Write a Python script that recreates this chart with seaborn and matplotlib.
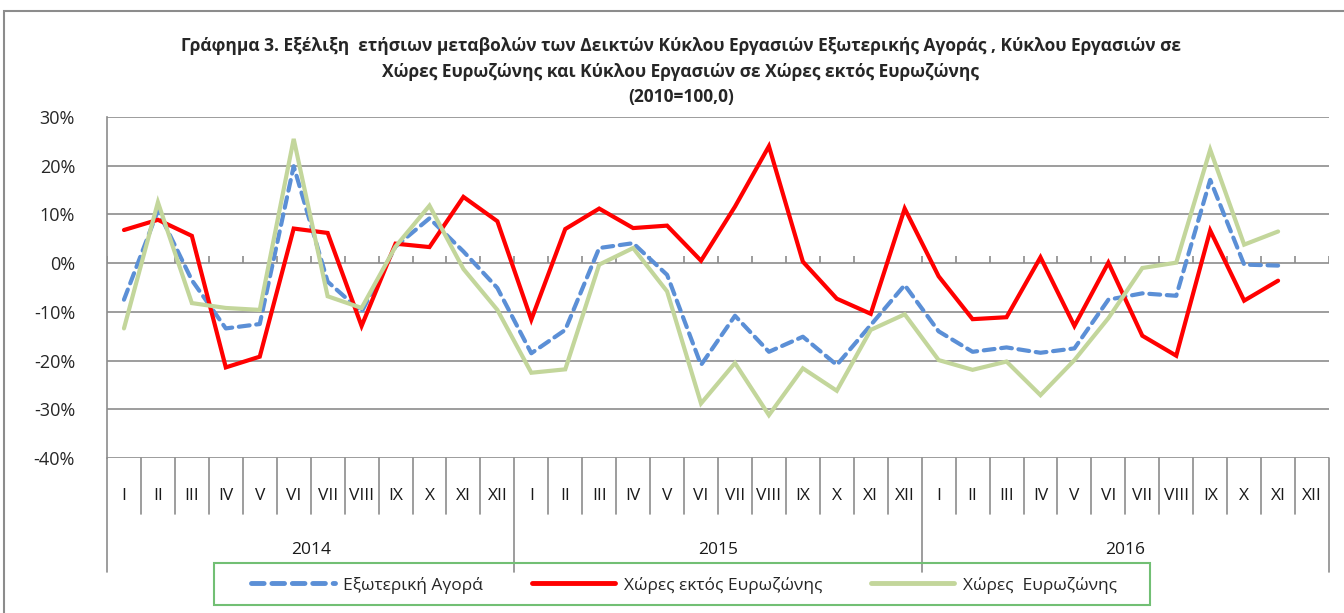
import numpy as np
import pandas as pd
import matplotlib
matplotlib.use("Agg")
from matplotlib import pyplot as plt
from matplotlib.patches import Rectangle
from matplotlib.lines import Line2D
import seaborn as sns

# month labels and years along the category axis
months = ["I", "II", "III", "IV", "V", "VI", "VII", "VIII", "IX", "X", "XI", "XII"]
years = ["2014", "2015", "2016"]

# series names (legend order)
series_names = ["Εξωτερική Αγορά", "Χώρες εκτός Ευρωζώνης", "Χώρες  Ευρωζώνης"]

# yearly change, % (2014 I .. 2016 XI)
external_market = [-7.5, 10.8, -3.5, -13.4, -12.5, 19.9, -3.8, -10.0, 3.4, 9.2, 2.4, -5.1,
                   -18.5, -13.7, 3.1, 4.1, -2.4, -20.9, -10.8, -18.2, -15.1, -20.9, -12.7, -4.5,
                   -14.0, -18.2, -17.3, -18.4, -17.5, -7.5, -6.2, -6.7, 17.1, -0.3, -0.5]
non_euro = [6.8, 8.9, 5.6, -21.4, -19.2, 7.1, 6.2, -12.9, 4.0, 3.3, 13.6, 8.6,
            -11.6, 7.0, 11.2, 7.2, 7.7, 0.5, 11.6, 24.0, 0.3, -7.3, -10.4, 11.2,
            -2.7, -11.5, -11.1, 1.2, -12.9, 0.1, -14.9, -19.0, 6.7, -7.7, -3.6]
euro = [-13.4, 12.5, -8.2, -9.2, -9.6, 25.5, -6.8, -9.2, 3.4, 11.8, -1.2, -9.6,
        -22.5, -21.8, -0.3, 3.1, -5.8, -28.8, -20.5, -31.2, -21.6, -26.2, -13.7, -10.5,
        -19.9, -21.9, -20.2, -27.1, -19.9, -11.3, -1.0, 0.1, 23.3, 3.8, 6.5]

title_lines = ["Γράφημα 3. Εξέλιξη  ετήσιων μεταβολών των Δεικτών Κύκλου Εργασιών Εξωτερικής Αγοράς , Κύκλου Εργασιών σε",
               "Χώρες Ευρωζώνης και Κύκλου Εργασιών σε Χώρες εκτός Ευρωζώνης",
               "(2010=100,0)"]

colors = {series_names[0]: "#5B8FD6", series_names[1]: "#FF0000", series_names[2]: "#C3D69B"}
dashes = {series_names[0]: (2.6, 1.6), series_names[1]: "", series_names[2]: ""}
grid_col = "#8C8C8C"

# long table for seaborn
rows = []
for name, vals in zip(series_names, [external_market, non_euro, euro]):
    for i, v in enumerate(vals):
        rows.append({"pos": i, "value": v, "series": name})
df = pd.DataFrame(rows)

sns.set_style("white")
plt.rcParams["font.family"] = ["Open Sans", "DejaVu Sans"]

W, H = 1344, 613
fig = plt.figure(figsize=(W / 100, H / 100), dpi=100)
ax = fig.add_axes([107 / W, 1 - 458 / H, (1329 - 107) / W, (458 - 117) / H])

n_cat = len(months) * len(years)

sns.lineplot(data=df, x="pos", y="value", hue="series", style="series",
             hue_order=series_names, style_order=series_names,
             palette=colors, dashes=dashes, linewidth=3.0, legend=False, ax=ax)
for ln in ax.lines:
    ln.set_solid_capstyle("round")
    ln.set_dash_capstyle("round")
    ln.set_solid_joinstyle("miter")

ax.set_xlim(-0.5, n_cat - 0.5)
ax.set_ylim(-40, 30)
yt = np.arange(-40, 31, 10)
ax.set_yticks(yt)
ax.set_yticklabels([f"{v}%" for v in yt], fontsize=13)
ax.tick_params(axis="y", length=0, pad=23)
ax.set_xticks([])
ax.set_xlabel("")
ax.set_ylabel("")
for v in yt:
    ax.axhline(v, color=grid_col, lw=1.2, zorder=0)
for s in ["top", "right", "bottom"]:
    ax.spines[s].set_visible(False)
ax.spines["left"].set_color(grid_col)
ax.spines["left"].set_linewidth(1.2)

# small tick marks on the zero line
bounds = np.arange(0, n_cat + 1) - 0.5
ax.vlines(bounds, 0, 1.4, color=grid_col, lw=1.2, zorder=0)

# category axis below the plot
trans = ax.get_xaxis_transform()
ph = 458 - 117
y_month_sep = -(514 - 458) / ph
y_year_sep = -(572 - 458) / ph
for b in bounds:
    is_year = (b + 0.5) % 12 == 0
    ax.plot([b, b], [0, y_year_sep if is_year else y_month_sep], transform=trans,
            color=grid_col, lw=1.2, clip_on=False)
for i in range(n_cat):
    ax.text(i, -(496 - 458) / ph, months[i % 12], transform=trans, ha="center", va="center",
            fontsize=12.5, color="#1a1a1a")
for k, yr in enumerate(years):
    ax.text(k * 12 + 5.5, -(550 - 458) / ph, yr, transform=trans, ha="center", va="center",
            fontsize=12.5, color="#1a1a1a")

# title
for txt, yp in zip(title_lines, [46, 72, 97]):
    fig.text(681 / W, 1 - yp / H, txt, ha="center", va="center", fontsize=12.5, fontweight="bold")

# legend with its own frame
fig.patches.append(Rectangle((214 / W, 1 - 605 / H), (1150 - 214) / W, (605 - 563) / H,
                             transform=fig.transFigure, fill=False, edgecolor="#72BF74", lw=1.5))
handles = [Line2D([], [], color=colors[s], lw=3.5, dashes=dashes[s] if dashes[s] else (None, None),
                  solid_capstyle="round", dash_capstyle="round") for s in series_names]
fig.legend(handles, series_names, loc="center", bbox_to_anchor=(684 / W, 1 - 585 / H), ncol=3,
           frameon=False, fontsize=12.5, handlelength=4.8, handletextpad=0.5, columnspacing=2.8)

# outer border of the chart area
fig.patches.append(Rectangle((4 / W, -0.1), 1.2, 1.1 - 11 / H, transform=fig.transFigure,
                             fill=False, edgecolor="#8C8C8C", lw=1.5))

fig.savefig("out.png", dpi=100)
